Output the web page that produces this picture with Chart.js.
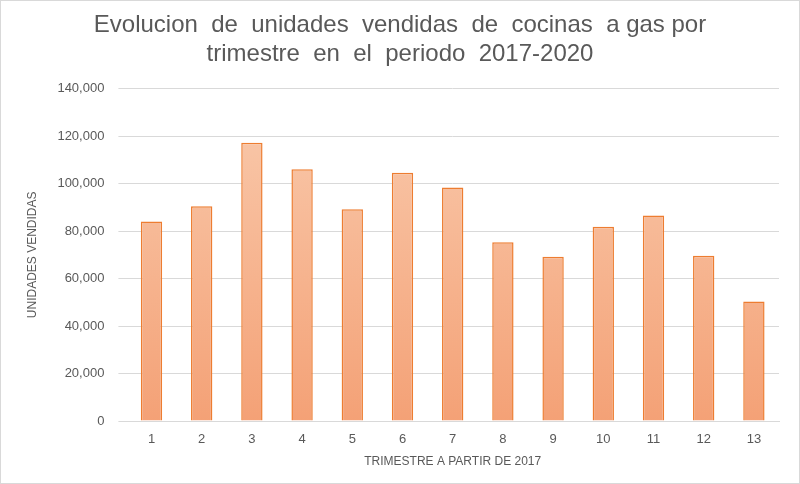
<!DOCTYPE html>
<html><head><meta charset="utf-8">
<script src="https://cdn.jsdelivr.net/npm/chart.js@4/dist/chart.umd.min.js"></script>
<style>html,body{margin:0;padding:0;background:#fff}#w{width:798px;height:482px;border:1px solid #d9d9d9;position:relative}</style>
</head><body><div id="w"><canvas id="c"></canvas></div>
<script>
const categories=['1','2','3','4','5','6','7','8','9','10','11','12','13'];
const values=[84000,90500,117200,106000,89200,104600,98300,75300,69200,81800,86500,69600,50300];
const titleLines=['Evolucion  de  unidades  vendidas  de  cocinas  a gas por','trimestre  en  el  periodo  2017-2020'];
new Chart(document.getElementById('c'),{type:'bar',
data:{labels:categories,datasets:[{data:values,borderColor:'#ED7D31',borderWidth:1.5,
backgroundColor:(ctx)=>{const a=ctx.chart.chartArea;if(!a)return '#F7B896';const g=ctx.chart.ctx.createLinearGradient(0,a.top,0,a.bottom);g.addColorStop(0,'#F9CBAE');g.addColorStop(1,'#F4A176');return g;},
categoryPercentage:0.85,barPercentage:0.5}]},
options:{responsive:true,maintainAspectRatio:false,animation:false,
layout:{padding:{left:20,right:20,top:10,bottom:10}},
plugins:{legend:{display:false},tooltip:{enabled:false},
title:{display:true,text:titleLines,color:'#595959',font:{family:'Liberation Sans',size:24,weight:'normal'},padding:{bottom:20},lineHeight:1.35}},
scales:{x:{grid:{display:false},border:{color:'#d9d9d9'},ticks:{color:'#595959',font:{family:'Liberation Sans',size:13}},
title:{display:true,text:'TRIMESTRE A PARTIR DE 2017',color:'#595959',font:{family:'Liberation Sans',size:12}}},
y:{min:0,max:140000,ticks:{stepSize:20000,color:'#595959',font:{family:'Liberation Sans',size:13},padding:14},grid:{color:'#d9d9d9'},border:{display:false},
title:{display:true,text:'UNIDADES VENDIDAS',color:'#595959',font:{family:'Liberation Sans',size:12}}}}}});
</script></body></html>
